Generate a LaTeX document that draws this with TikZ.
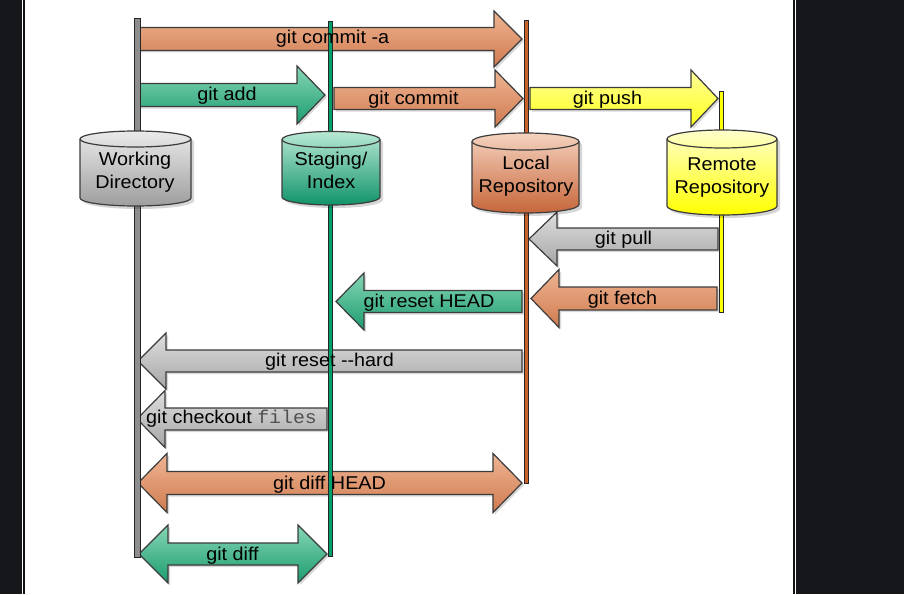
\documentclass[tikz,border=0pt]{standalone}
\usepackage{fontspec}
\setmainfont{Liberation Sans}[FakeStretch=1.07]
\newfontfamily\codefont{Liberation Mono}[FakeStretch=1.07]
\usetikzlibrary{shadows}

\definecolor{pagedark}{HTML}{16171B}
\definecolor{edge}{HTML}{3C3C3C}
\definecolor{orangeTop}{HTML}{EEB593}
\definecolor{orangeBot}{HTML}{D07A4F}
\definecolor{greenTop}{HTML}{86D6B5}
\definecolor{greenBot}{HTML}{1B9C6E}
\definecolor{grayTop}{HTML}{DEDEDE}
\definecolor{grayBot}{HTML}{A6A6A6}
\definecolor{yellowTop}{HTML}{FFFF9A}
\definecolor{yellowBot}{HTML}{FFFF1A}
\definecolor{wdTop}{HTML}{EAEAEA}
\definecolor{wdBot}{HTML}{9E9E9E}
\definecolor{stTop}{HTML}{B9E9D5}
\definecolor{stBot}{HTML}{10936A}
\definecolor{lrTop}{HTML}{F5D3BF}
\definecolor{lrBot}{HTML}{C6663A}
\definecolor{rrTop}{HTML}{FFFFCC}
\definecolor{rrBot}{HTML}{FFFF00}
\definecolor{wdLane}{HTML}{8E8E8E}
\definecolor{stLane}{HTML}{00A06C}
\definecolor{lrLane}{HTML}{C8622A}
\definecolor{laneEdge}{HTML}{262626}
\definecolor{codegray}{HTML}{505050}

\tikzset{
  outline/.style={draw=edge, line width=1.2pt, line join=miter},
  soft/.style={drop shadow={shadow xshift=2pt, shadow yshift=-2pt, fill=black, opacity=.15}},
  orangearrow/.style={outline, soft, top color=orangeTop, bottom color=orangeBot},
  greenarrow/.style={outline, soft, top color=greenTop, bottom color=greenBot},
  grayarrow/.style={outline, soft, top color=grayTop, bottom color=grayBot},
  yellowarrow/.style={outline, soft, top color=yellowTop, bottom color=yellowBot},
  lane/.style={draw=laneEdge, line width=1pt},
  lbl/.style={inner sep=0pt, anchor=base, text=black},
  drumlbl/.style={lbl, align=center},
}

% block arrow: style, tail x, head base x, tip x, centre y, half body, half head
\newcommand\blockarrow[7]{%
  \path[#1] (#2,#5-#6) -- (#3,#5-#6) -- (#3,#5-#7) -- (#4,#5)
    -- (#3,#5+#7) -- (#3,#5+#6) -- (#2,#5+#6) -- cycle;}

% two-headed block arrow: style, left tip, left base, right base, right tip, centre y, half body, half head
\newcommand\twinarrow[8]{%
  \path[#1] (#2,#6) -- (#3,#6-#8) -- (#3,#6-#7) -- (#4,#6-#7) -- (#4,#6-#8)
    -- (#5,#6) -- (#4,#6+#8) -- (#4,#6+#7) -- (#3,#6+#7) -- (#3,#6+#8) -- cycle;}

% storage drum: left x, right x, top y, bottom y, rim half height, top colour, bottom colour
\newcommand\drum[7]{%
  \pgfmathsetmacro\dcx{(#1+#2)/2}%
  \pgfmathsetmacro\drx{(#2-#1)/2}%
  \pgfmathsetmacro\dkx{0.5523*\drx}%
  \pgfmathsetmacro\dky{0.5523*#5}%
  \pgfmathsetmacro\dtc{#3+#5}%
  \pgfmathsetmacro\dbc{#4-#5}%
  \pgfmathsetmacro\dfr{#3+2*#5}%
  \path[outline, drop shadow={shadow xshift=3pt, shadow yshift=-3pt, fill=black, opacity=.16},
        top color=#6, bottom color=#7]
    (#1,\dtc) -- (#1,\dbc)
    .. controls (#1,\dbc+\dky) and (\dcx-\dkx,#4) .. (\dcx,#4)
    .. controls (\dcx+\dkx,#4) and (#2,\dbc+\dky) .. (#2,\dbc)
    -- (#2,\dtc)
    .. controls (#2,\dtc-\dky) and (\dcx+\dkx,#3) .. (\dcx,#3)
    .. controls (\dcx-\dkx,#3) and (#1,\dtc-\dky) .. (#1,\dtc) -- cycle;
  \draw[outline] (#1,\dtc)
    .. controls (#1,\dtc+\dky) and (\dcx-\dkx,\dfr) .. (\dcx,\dfr)
    .. controls (\dcx+\dkx,\dfr) and (#2,\dtc+\dky) .. (#2,\dtc);}

\begin{document}
\begin{tikzpicture}[x=1pt, y=-1pt, font=\fontsize{18.5}{22.6}\selectfont]
  % page and frame
  \fill[pagedark] (0,0) rectangle (904,594);
  \fill[white] (22,0) rectangle (796,594);
  \fill[black!92] (23,0) rectangle (25,594);
  \fill[black!92] (793,0) rectangle (795,594);
  \useasboundingbox (0,0) rectangle (904,594);

  % commands
  \blockarrow{orangearrow}{138}{494}{522}{39}{11.5}{28}
  \blockarrow{greenarrow}{138}{297}{325}{95}{11.5}{29}
  \blockarrow{orangearrow}{334}{495}{523}{98.5}{11}{28.5}
  \blockarrow{yellowarrow}{530}{691}{718}{98.5}{11}{28.5}
  \blockarrow{grayarrow}{718}{557}{529}{239}{11}{27}
  \blockarrow{orangearrow}{717}{559}{531}{298.5}{11.5}{29}
  \blockarrow{greenarrow}{522}{364}{336}{301.5}{11}{28.5}
  \blockarrow{grayarrow}{522}{166}{138}{361}{11}{28}
  \blockarrow{grayarrow}{327}{165}{137}{419}{11}{28.5}
  \twinarrow{orangearrow}{138}{167}{493}{522}{483}{11.5}{29.5}
  \twinarrow{greenarrow}{139}{168}{298}{327}{554}{11}{29}

  % lanes
  \path[lane, fill=wdLane] (134,19) rectangle (140,557);
  \path[lane, fill=stLane] (328.5,22) rectangle (332.5,556);
  \path[lane, fill=lrLane] (524.3,21) rectangle (528.3,483);
  \path[lane, fill=rrBot] (719,91) rectangle (723,312);

  % stores
  \drum{80}{191}{131}{206}{8}{wdTop}{wdBot}
  \drum{282}{380}{131.5}{205}{8}{stTop}{stBot}
  \drum{472}{579}{133}{213}{8.5}{lrTop}{lrBot}
  \drum{667}{777}{130}{215}{9}{rrTop}{rrBot}

  % store names (placed by the baseline of their second line)
  \node[drumlbl] (wd) at (135,188.3) {Working\\Directory};
  \node[drumlbl] (stage) at (331,188.5) {Staging/\\Index};
  \node[drumlbl] (local) at (526,192.3) {Local\\Repository};
  \node[drumlbl] (remote) at (722,193.3) {Remote\\Repository};

  % command labels
  \node[lbl] (commita) at (332.5,44) {git commit -a};
  \node[lbl] (add) at (227,100) {git add};
  \node[lbl] (commit) at (413.5,104) {git commit};
  \node[lbl] (push) at (607.5,104.5) {git push};
  \node[lbl] (pull) at (623.5,244.5) {git pull};
  \node[lbl] (fetch) at (622.5,304.5) {git fetch};
  \node[lbl] (resethead) at (429,307) {git reset HEAD};
  \node[lbl] (resethard) at (329.5,366.5) {git reset -{}-hard};
  \node[lbl] (checkout) at (231.5,423.5) {git checkout {\codefont\color{codegray}files}};
  \node[lbl] (diffhead) at (329.5,489) {git diff HEAD};
  \node[lbl] (diff) at (232.5,560) {git diff};
\end{tikzpicture}
\end{document}
